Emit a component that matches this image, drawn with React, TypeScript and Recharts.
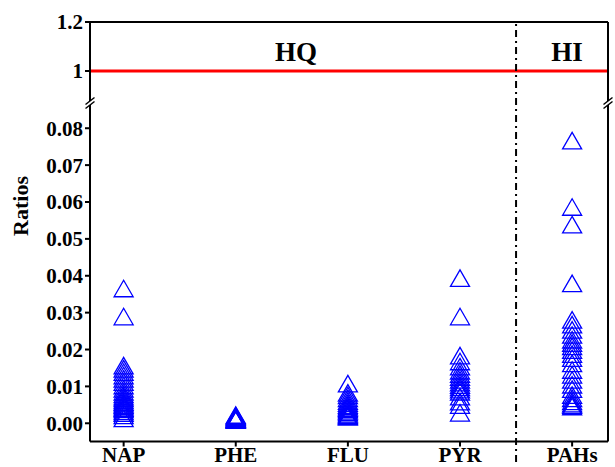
import React from 'react';
import { ScatterChart, Scatter, XAxis, YAxis, ReferenceLine } from 'recharts';

const categories = ['NAP', 'PHE', 'FLU', 'PYR', 'PAHs'];
const napValues = [0.0358, 0.0282, 0.0149, 0.014, 0.0131, 0.0122, 0.0113, 0.0104, 0.0095, 0.0086, 0.0078, 0.0071, 0.0065, 0.006, 0.0055, 0.005, 0.0046, 0.0042, 0.0038, 0.0034, 0.003, 0.0025, 0.002, 0.0014, 0.0006];
const pheValues = [0.0015, 0.0013, 0.0011, 0.0009, 0.0008, 0.0006, 0.0005, 0.0004, 0.0003, 0.0002, 0.0001];
const fluValues = [0.01, 0.0075, 0.0068, 0.006, 0.0053, 0.0047, 0.0042, 0.0038, 0.0034, 0.003, 0.0026, 0.0022, 0.0018, 0.0015, 0.0012, 0.001];
const pyrValues = [0.0386, 0.0282, 0.0176, 0.016, 0.0146, 0.0135, 0.0126, 0.0118, 0.011, 0.0103, 0.0096, 0.009, 0.0084, 0.0078, 0.0065, 0.0051, 0.0042, 0.0021];
const pahsValues = [0.0759, 0.0579, 0.0531, 0.0372, 0.0273, 0.026, 0.0246, 0.0232, 0.0219, 0.021, 0.0201, 0.0191, 0.018, 0.0169, 0.0155, 0.0137, 0.0124, 0.011, 0.0097, 0.0085, 0.0069, 0.006, 0.0052, 0.0046, 0.0042, 0.0038];
const seriesValues = [napValues, pheValues, fluValues, pyrValues, pahsValues];

const lowerTicks = [0, 0.01, 0.02, 0.03, 0.04, 0.05, 0.06, 0.07, 0.08];
const upperTicks = [1, 1.2];
const categoryTicks = [0, 1, 2, 3, 4];
const thresholdValue = 1;
const hqLabel = 'HQ';
const hiLabel = 'HI';
const yTitle = 'Ratios';

const points = seriesValues.flatMap((vals, i) => vals.map((v) => ({ x: i, y: v })));

const FONT = '"Liberation Serif", "Times New Roman", serif';
const xDomain: [number, number] = [-0.3, 4.32];
const upperDomain: [number, number] = [0.8776, 1.2];
const lowerDomain: [number, number] = [-0.00494, 0.0863];
const tickStyle = { fill: '#000', fontSize: 21, fontWeight: 'bold', fontFamily: FONT };
const axisStroke = { stroke: '#000', strokeWidth: 2 };

// open triangle marker, centred on its centroid
const Triangle = (props: any) => {
  const { cx, cy } = props;
  if (cx == null || cy == null) return null;
  const r = 5.5;
  const w = r * Math.sqrt(3);
  const d = `M${cx},${cy - 2 * r}L${cx + w},${cy + r}L${cx - w},${cy + r}Z`;
  return <path d={d} fill="none" stroke="#0000ff" strokeWidth={1.3} />;
};

export default function App() {
  return (
    <div style={{ position: 'absolute', left: 0, top: 0, width: 615, height: 467, background: '#fff' }}>
      <div style={{ position: 'absolute', left: 0, top: 0 }}>
        <ScatterChart width={615} height={101} margin={{ top: 22, right: 0, bottom: 0, left: 0 }}>
          <XAxis xAxisId="x" type="number" dataKey="x" domain={xDomain} hide allowDataOverflow />
          <YAxis
            yAxisId="l"
            type="number"
            dataKey="y"
            width={90}
            domain={upperDomain}
            ticks={upperTicks}
            allowDataOverflow
            tickFormatter={(v: number) => (v === 1 ? '1' : v.toFixed(1))}
            tick={tickStyle}
            axisLine={axisStroke}
            tickLine={axisStroke}
            tickSize={5}
            tickMargin={2}
          />
          <YAxis
            yAxisId="r"
            orientation="right"
            type="number"
            width={7}
            domain={upperDomain}
            ticks={[]}
            tick={false}
            tickLine={false}
            axisLine={axisStroke}
          />
          <Scatter xAxisId="x" yAxisId="l" data={[]} isAnimationActive={false} />
          <ReferenceLine xAxisId="x" yAxisId="l" y={1.2} stroke="#000" strokeWidth={2} ifOverflow="visible" />
          <ReferenceLine xAxisId="x" yAxisId="l" y={thresholdValue} stroke="#ff0000" strokeWidth={3} />
        </ScatterChart>
      </div>
      <div style={{ position: 'absolute', left: 0, top: 0 }}>
        <ScatterChart width={615} height={467} margin={{ top: 105, right: 0, bottom: 0, left: 0 }}>
          <XAxis
            xAxisId="x"
            type="number"
            dataKey="x"
            domain={xDomain}
            ticks={categoryTicks}
            interval={0}
            allowDataOverflow
            tickFormatter={(v: number) => categories[v] ?? ''}
            height={25.5}
            tick={{ ...tickStyle, fontSize: 21 }}
            axisLine={axisStroke}
            tickLine={axisStroke}
            tickSize={5}
            tickMargin={1}
          />
          <YAxis
            yAxisId="l"
            type="number"
            dataKey="y"
            width={90}
            domain={lowerDomain}
            ticks={lowerTicks}
            allowDataOverflow
            tickFormatter={(v: number) => v.toFixed(2)}
            tick={tickStyle}
            axisLine={axisStroke}
            tickLine={axisStroke}
            tickSize={5}
            tickMargin={2}
          />
          <YAxis
            yAxisId="r"
            orientation="right"
            type="number"
            width={7}
            domain={lowerDomain}
            ticks={[]}
            tick={false}
            tickLine={false}
            axisLine={axisStroke}
          />
          <ReferenceLine
            xAxisId="x"
            yAxisId="l"
            segment={[{ x: 3.5, y: -0.0105 }, { x: 3.5, y: 0.1088 }]}
            stroke="#000"
            strokeWidth={2}
            strokeDasharray="7 4 2 4"
            ifOverflow="visible"
          />
          <Scatter
            xAxisId="x"
            yAxisId="l"
            data={points}
            shape={<Triangle />}
            isAnimationActive={false}
          />
        </ScatterChart>
      </div>
      <svg width={615} height={467} style={{ position: 'absolute', left: 0, top: 0, pointerEvents: 'none' }}>
        <g fontFamily={FONT} fontWeight="bold" fill="#000">
          <text x={296} y={60.5} fontSize={27} textAnchor="middle">{hqLabel}</text>
          <text x={567} y={60.5} fontSize={27} textAnchor="middle">{hiLabel}</text>
          <text transform="rotate(-90)" x={-206} y={28} fontSize={22} textAnchor="middle">{yTitle}</text>
        </g>
        <g stroke="#000" strokeWidth={1.5}>
          <line x1={85.5} y1={104.5} x2={94.5} y2={97.5} />
          <line x1={85.5} y1={108.5} x2={94.5} y2={101.5} />
          <line x1={603.5} y1={104.5} x2={612.5} y2={97.5} />
          <line x1={603.5} y1={108.5} x2={612.5} y2={101.5} />
        </g>
      </svg>
    </div>
  );
}
